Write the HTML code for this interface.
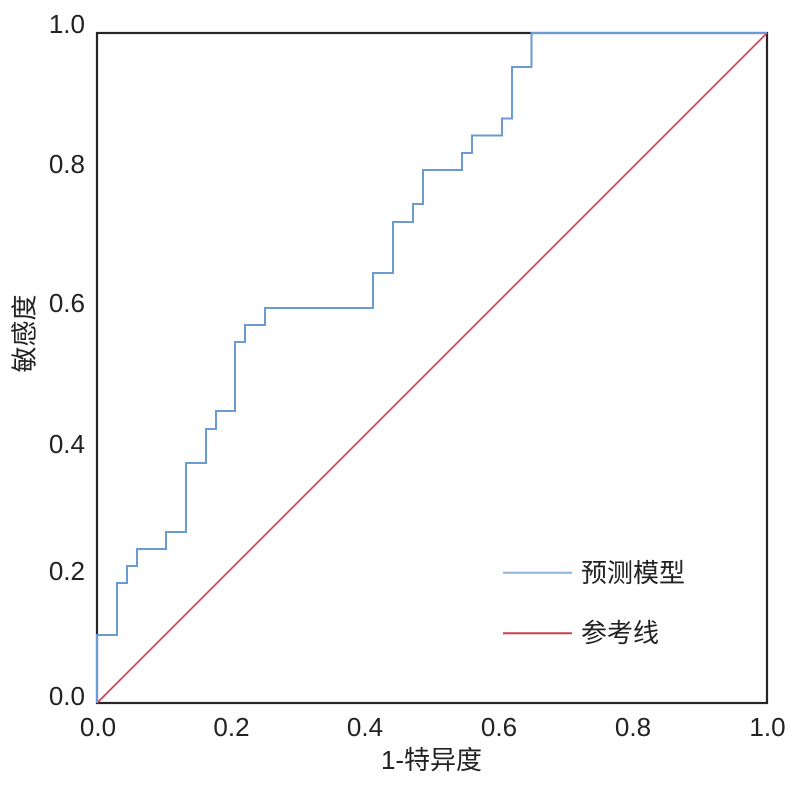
<!DOCTYPE html>
<html>
<head>
<meta charset="utf-8">
<style>
html,body{margin:0;padding:0;background:#fff;}
svg{display:block;}
text{font-family:"Liberation Sans","Noto Sans CJK SC",sans-serif;fill:#222;}
</style>
</head>
<body>
<svg width="798" height="786" viewBox="0 0 798 786" xmlns="http://www.w3.org/2000/svg">
  <rect x="0" y="0" width="798" height="786" fill="#fff"/>
  <!-- frame -->
  <rect x="97" y="33" width="670" height="670" fill="none" stroke="#262626" stroke-width="2.2"/>
  <!-- reference line -->
  <line x1="97" y1="703" x2="767" y2="33" stroke="#c8404f" stroke-width="1.6"/>
  <!-- ROC curve -->
  <path d="M97,703 V635 H117 V583 H127 V566 H137 V549 H166 V532 H186 V463 H206 V429 H216 V411 H235 V342 H245 V325 H265 V308 H373 V273 H393 V222 H413 V204 H423 V170 H462 V153 H472 V135.5 H502 V118.5 H512 V67 H531.5 V33 H767"
        fill="none" stroke="#6b9bd2" stroke-width="2"/>
  <!-- y tick labels -->
  <g font-size="26" text-anchor="end">
    <text x="85" y="33">1.0</text>
    <text x="85" y="173">0.8</text>
    <text x="85" y="312">0.6</text>
    <text x="85" y="453">0.4</text>
    <text x="85" y="580">0.2</text>
    <text x="85" y="705">0.0</text>
  </g>
  <!-- x tick labels -->
  <g font-size="26" text-anchor="middle">
    <text x="98" y="736">0.0</text>
    <text x="231.5" y="736">0.2</text>
    <text x="365" y="736">0.4</text>
    <text x="499" y="736">0.6</text>
    <text x="633" y="736">0.8</text>
    <text x="767.5" y="736">1.0</text>
  </g>
  <!-- axis titles -->
  <text x="431.5" y="769" font-size="26" text-anchor="middle">1-特异度</text>
  <text x="24.5" y="333.5" font-size="26" text-anchor="middle" dominant-baseline="central" transform="rotate(-90 24.5 333.5)">敏感度</text>
  <!-- legend -->
  <line x1="503" y1="572.7" x2="572" y2="572.7" stroke="#8fb4dc" stroke-width="2"/>
  <text x="581" y="582" font-size="26">预测模型</text>
  <line x1="503" y1="633.3" x2="572" y2="633.3" stroke="#c8404f" stroke-width="2"/>
  <text x="581" y="642" font-size="26">参考线</text>
</svg>
</body>
</html>
